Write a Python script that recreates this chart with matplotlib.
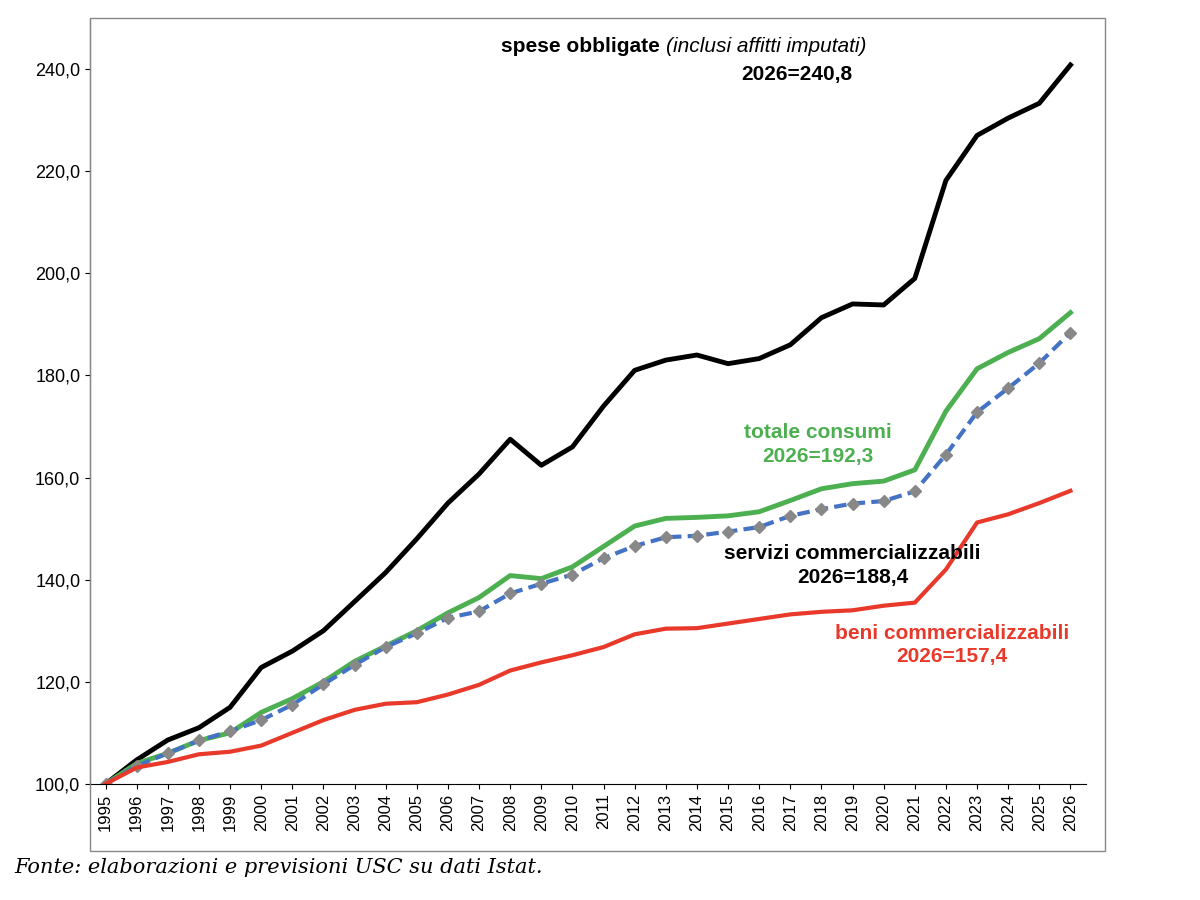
import matplotlib.pyplot as plt
from matplotlib.patches import Rectangle

plt.rcParams['font.family'] = ['Liberation Sans', 'DejaVu Sans']

years = list(range(1995, 2027))
spese = [100, 104.7, 108.6, 111, 115, 122.8, 126, 130, 135.7, 141.4, 148, 155, 160.7, 167.5, 162.4, 166,
         174, 181, 183, 184, 182.3, 183.3, 186, 191.3, 194, 193.8, 199, 218.2, 227, 230.4, 233.3, 240.8]
totale = [100, 104, 106, 108.5, 110, 114, 116.7, 120, 124, 127, 130, 133.5, 136.5, 140.8, 140.2, 142.5,
          146.5, 150.5, 152, 152.2, 152.5, 153.3, 155.5, 157.8, 158.8, 159.3, 161.5, 173, 181.3, 184.5, 187.2, 192.3]
servizi = [100, 103.5, 106, 108.5, 110.3, 112.5, 115.5, 119.5, 123.3, 126.8, 129.5, 132.5, 133.8, 137.3, 139.2, 141,
           144.2, 146.6, 148.3, 148.6, 149.4, 150.3, 152.5, 153.8, 154.9, 155.4, 157.3, 164.5, 172.8, 177.5, 182.4, 188.4]
beni = [100, 103.2, 104.3, 105.8, 106.3, 107.5, 110, 112.5, 114.5, 115.7, 116, 117.5, 119.4, 122.2, 123.8, 125.2,
        126.8, 129.3, 130.4, 130.5, 131.4, 132.3, 133.2, 133.7, 134, 134.9, 135.5, 142, 151.2, 152.8, 155, 157.4]

fig = plt.figure(figsize=(12, 9), dpi=100)
ax = fig.add_axes([0.075, 0.129, 0.83, 0.851])
fig.patches.append(Rectangle((0.075, 0.055), 0.846, 0.925, transform=fig.transFigure,
                             fill=False, edgecolor='#888888', lw=1))

ax.plot(years, spese, color='black', lw=3.5)
ax.plot(years, totale, color='#4CAF50', lw=3.5)
ax.plot(years, servizi, color='#4472C4', lw=3, ls=(0, (3, 1.5)))
ax.plot(years, servizi, color='#888888', lw=0, marker='D', ms=6)
ax.plot(years, beni, color='#E8392A', lw=3)

ax.set_xlim(1994.5, 2026.5)
ax.set_ylim(100, 250)
ax.set_yticks(range(100, 241, 20))
ax.set_yticklabels(['%d,0' % v for v in range(100, 241, 20)], fontsize=13)
ax.set_xticks(years)
ax.set_xticklabels([str(y) for y in years], rotation=90, fontsize=12)
ax.spines['top'].set_visible(False)
ax.spines['right'].set_visible(False)

ax.text(2013.0, 244.5, 'spese obbligate ', fontsize=15, fontweight='bold', ha='right', va='center')
ax.text(2013.0, 244.5, '(inclusi affitti imputati)', fontsize=15, style='italic', ha='left', va='center')
ax.text(2017.2, 239, '2026=240,8', fontsize=15, fontweight='bold', ha='center', va='center')
ax.text(2017.9, 166.5, 'totale consumi\n2026=192,3', fontsize=15, fontweight='bold',
        color='#4CAF50', ha='center', va='center', linespacing=1.3)
ax.text(2019, 142.8, 'servizi commercializzabili\n2026=188,4', fontsize=15, fontweight='bold',
        color='black', ha='center', va='center', linespacing=1.3)
ax.text(2022.2, 127.2, 'beni commercializzabili\n2026=157,4', fontsize=15, fontweight='bold',
        color='#E8392A', ha='center', va='center', linespacing=1.3)

fig.text(0.012, 0.03, 'Fonte: elaborazioni e previsioni USC su dati Istat.', fontsize=15,
         family='DejaVu Serif', style='italic')

fig.savefig('out.png')
